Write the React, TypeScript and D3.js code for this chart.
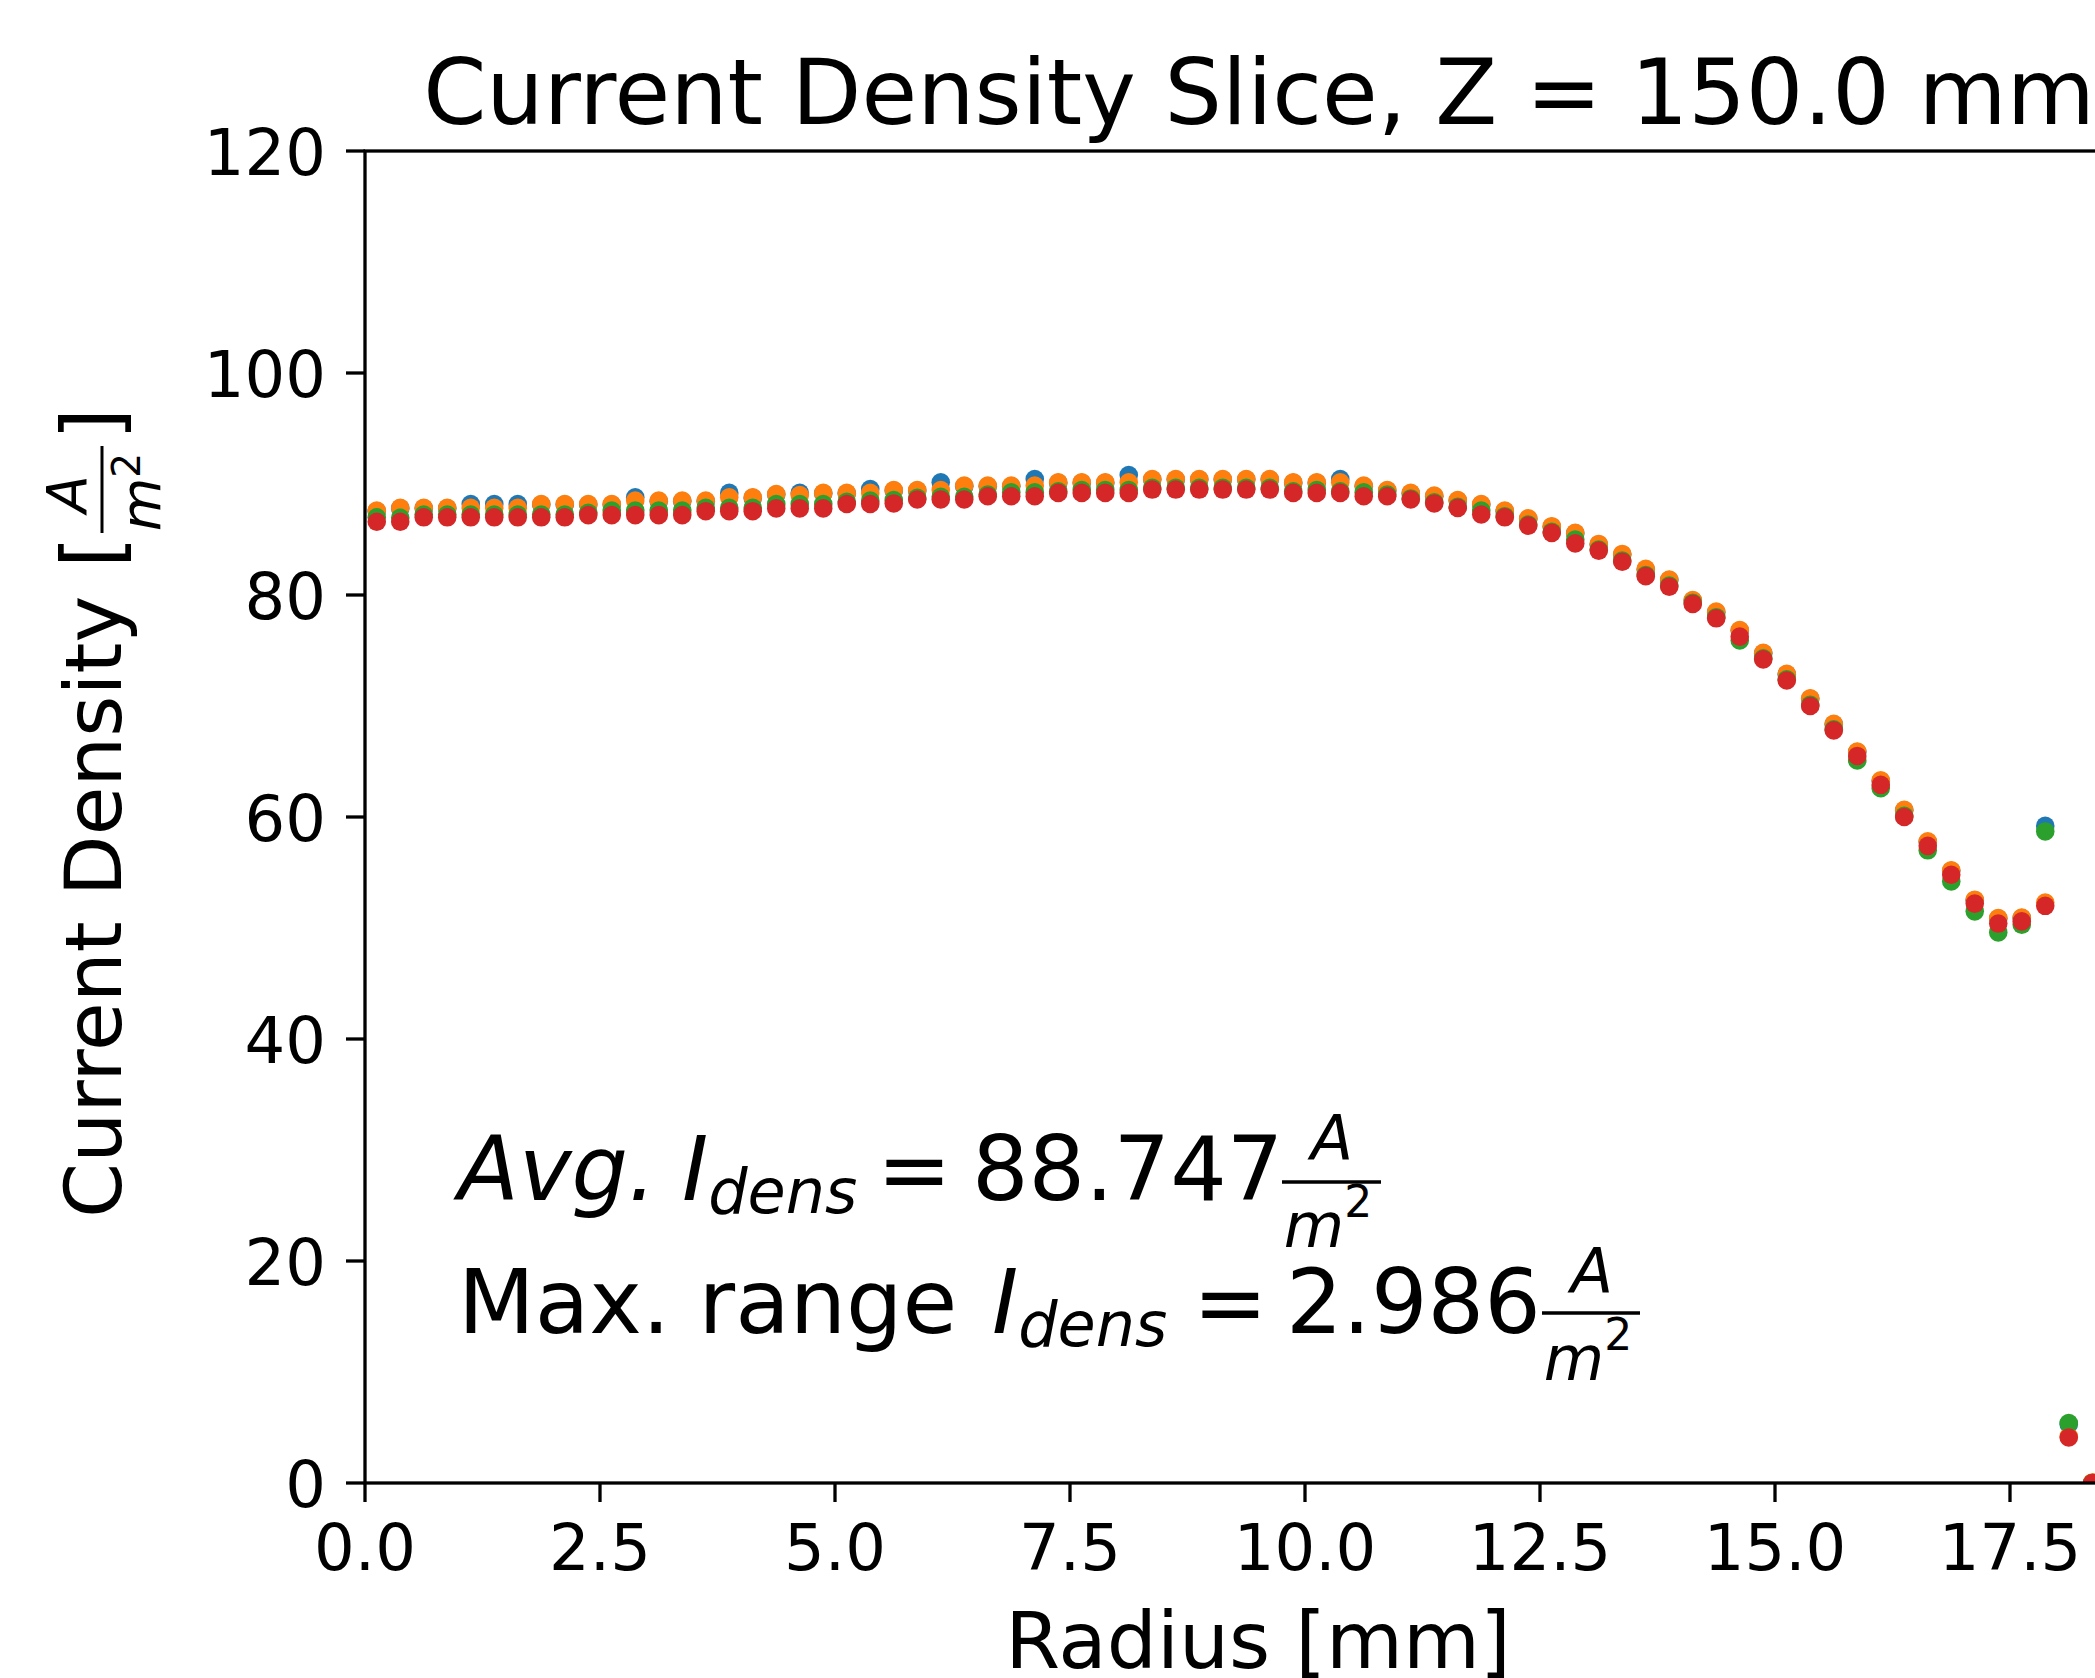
import React from 'react';
import * as d3 from 'd3';

// radius positions of the slice samples [mm]
const radius = [
  0.125, 0.375, 0.625, 0.875, 1.125, 1.375, 1.625, 1.875, 2.125, 2.375,
  2.625, 2.875, 3.125, 3.375, 3.625, 3.875, 4.125, 4.375, 4.625, 4.875,
  5.125, 5.375, 5.625, 5.875, 6.125, 6.375, 6.625, 6.875, 7.125, 7.375,
  7.625, 7.875, 8.125, 8.375, 8.625, 8.875, 9.125, 9.375, 9.625, 9.875,
  10.125, 10.375, 10.625, 10.875, 11.125, 11.375, 11.625, 11.875, 12.125, 12.375,
  12.625, 12.875, 13.125, 13.375, 13.625, 13.875, 14.125, 14.375, 14.625, 14.875,
  15.125, 15.375, 15.625, 15.875, 16.125, 16.375, 16.625, 16.875, 17.125, 17.375,
  17.625, 17.875, 18.125, 18.375,
];

// current density per series [A/m^2]
const blueValues = [
  87.55, 87.8, 87.8, 87.8, 88.2, 88.2, 88.2, 88.15, 88.15, 88.15,
  88.15, 88.8, 88.45, 88.45, 88.45, 89.2, 88.75, 89.05, 89.2, 89.15,
  89.15, 89.55, 89.4, 89.4, 90.15, 89.8, 89.8, 89.8, 90.45, 90.1,
  90.1, 90.1, 90.8, 90.4, 90.4, 90.4, 90.4, 90.4, 90.4, 90.1,
  90.1, 90.45, 89.8, 89.4, 89.15, 88.9, 88.5, 88.15, 87.55, 86.85,
  86.15, 85.55, 84.55, 83.65, 82.3, 81.35, 79.5, 78.45, 76.8, 74.75,
  72.85, 70.65, 68.35, 65.85, 63.25, 60.6, 57.75, 55.15, 52.5, 50.85,
  50.9, 59.2, 5.3, 0.0,
];

const orangeValues = [
  87.6, 87.85, 87.85, 87.85, 87.85, 87.85, 87.85, 88.2, 88.2, 88.2,
  88.2, 88.5, 88.5, 88.5, 88.5, 88.8, 88.8, 89.1, 89.0, 89.2,
  89.2, 89.2, 89.45, 89.45, 89.45, 89.85, 89.85, 89.85, 89.85, 90.15,
  90.15, 90.15, 90.15, 90.45, 90.45, 90.45, 90.45, 90.45, 90.45, 90.15,
  90.15, 90.15, 89.85, 89.45, 89.2, 88.95, 88.55, 88.2, 87.6, 86.9,
  86.2, 85.6, 84.6, 83.7, 82.35, 81.4, 79.55, 78.5, 76.85, 74.8,
  72.9, 70.7, 68.4, 65.9, 63.3, 60.65, 57.8, 55.2, 52.55, 50.9,
  50.95, 52.3, 4.2, 0.05,
];

const greenValues = [
  87.0, 86.95, 87.25, 87.25, 87.25, 87.25, 87.25, 87.25, 87.25, 87.4,
  87.6, 87.6, 87.6, 87.6, 87.85, 87.85, 87.85, 88.2, 88.2, 88.2,
  88.4, 88.5, 88.55, 88.75, 88.85, 88.85, 89.05, 89.25, 89.25, 89.35,
  89.45, 89.45, 89.45, 89.65, 89.65, 89.65, 89.65, 89.65, 89.65, 89.35,
  89.45, 89.35, 89.25, 89.05, 88.7, 88.35, 87.95, 87.6, 87.1, 86.35,
  85.7, 85.0, 84.1, 83.1, 81.8, 80.85, 79.3, 78.0, 75.9, 74.3,
  72.4, 70.1, 67.9, 65.1, 62.6, 60.1, 57.0, 54.2, 51.5, 49.6,
  50.3, 58.7, 5.4, 0.0,
];

const redValues = [
  86.6, 86.6, 87.0, 87.0, 87.0, 87.0, 87.0, 87.0, 87.0, 87.2,
  87.2, 87.2, 87.2, 87.2, 87.55, 87.55, 87.55, 87.8, 87.8, 87.8,
  88.2, 88.2, 88.25, 88.6, 88.6, 88.6, 88.9, 88.9, 88.9, 89.2,
  89.2, 89.2, 89.2, 89.5, 89.5, 89.5, 89.5, 89.5, 89.5, 89.2,
  89.2, 89.2, 88.9, 88.9, 88.6, 88.25, 87.85, 87.25, 87.0, 86.25,
  85.6, 84.65, 84.0, 83.0, 81.7, 80.75, 79.2, 77.9, 76.25, 74.2,
  72.3, 70.0, 67.8, 65.5, 62.9, 60.0, 57.4, 54.8, 52.2, 50.4,
  50.6, 52.0, 4.1, 0.0,
];

const xTicks = [0, 2.5, 5, 7.5, 10, 12.5, 15, 17.5];
const yTicks = [0, 20, 40, 60, 80, 100, 120];

const series = [
  { name: 'blue', color: '#1f77b4', values: blueValues },
  { name: 'orange', color: '#ff7f0e', values: orangeValues },
  { name: 'green', color: '#2ca02c', values: greenValues },
  { name: 'red', color: '#d62728', values: redValues },
];

const W = 2095;
const H = 1678;
const margin = { left: 365, top: 151, right: 2151, bottom: 1483 };
const font = 'DejaVu Sans';

export default function App() {
  const x = d3.scaleLinear().domain([0, 19]).range([margin.left, margin.right]);
  const y = d3.scaleLinear().domain([0, 120]).range([margin.bottom, margin.top]);
  const tickLen = 19;
  const lw = 3.3;

  return (
    <div style={{ position: 'absolute', left: 0, top: 0 }}>
      <svg width={W} height={H} style={{ display: 'block', background: '#fff' }} fontFamily={font}>
        <defs>
          <clipPath id="plot">
            <rect x={margin.left} y={margin.top} width={margin.right - margin.left} height={margin.bottom - margin.top} />
          </clipPath>
        </defs>
        <rect width={W} height={H} fill="#fff" />

        {/* points, drawn series by series like the scatter calls */}
        <g clipPath="url(#plot)">
          {series.map(s => (
            <g key={s.name} fill={s.color}>
              {s.values.map((v, i) => (
                <circle key={i} cx={x(radius[i])} cy={y(v)} r={9.3} />
              ))}
            </g>
          ))}
        </g>

        {/* spines */}
        <rect x={margin.left} y={margin.top} width={margin.right - margin.left} height={margin.bottom - margin.top}
          stroke="#000" strokeWidth={lw} fill="none" />

        {/* x axis */}
        <g>
          {xTicks.map(t => (
            <g key={t}>
              <line x1={x(t)} x2={x(t)} y1={margin.bottom} y2={margin.bottom + tickLen} stroke="#000" strokeWidth={lw} />
              <text x={x(t)} y={1570} fontSize={64} textAnchor="middle">{t.toFixed(1)}</text>
            </g>
          ))}
          <text x={(margin.left + margin.right) / 2} y={1668} fontSize={79} textAnchor="middle">Radius [mm]</text>
        </g>

        {/* y axis */}
        <g>
          {yTicks.map(t => (
            <g key={t}>
              <line x1={margin.left - tickLen} x2={margin.left} y1={y(t)} y2={y(t)} stroke="#000" strokeWidth={lw} />
              <text x={326} y={y(t) + 24} fontSize={64} textAnchor="end">{t}</text>
            </g>
          ))}
          <text transform="translate(121,1218) rotate(-90)" fontSize={79}>Current Density</text>
          <text transform="translate(120,568) rotate(-90)" fontSize={82}>[</text>
          <text transform="translate(86,494) rotate(-90)" fontSize={55} fontStyle="italic" textAnchor="middle">A</text>
          <line x1={102} x2={102} y1={446} y2={533} stroke="#000" strokeWidth={3} />
          <text transform="translate(160,492) rotate(-90)" fontSize={55} fontStyle="italic" textAnchor="middle">
            m<tspan fontSize={39} fontStyle="normal" dy={-20}>2</tspan>
          </text>
          <text transform="translate(120,440) rotate(-90)" fontSize={82}>]</text>
        </g>

        {/* title */}
        <text x={1259} y={124} fontSize={90.5} textAnchor="middle">
          Current Density Slice, Z = 150.0 mm
        </text>

        {/* annotation */}
        <g fontSize={89}>
          <text x={458} y={1200}>
            <tspan fontStyle="italic">Avg.</tspan>
            <tspan fontStyle="italic" x={682}>I</tspan>
            <tspan fontStyle="italic" fontSize={62} dy={13}>dens</tspan>
          </text>
          <text x={877} y={1200}>=</text>
          <text x={972} y={1200}>88.747</text>
          <text x={1332} y={1160} fontSize={62} fontStyle="italic" textAnchor="middle">A</text>
          <line x1={1282} x2={1381} y1={1182} y2={1182} stroke="#000" strokeWidth={3.5} />
          <text x={1328} y={1247} fontSize={62} fontStyle="italic" textAnchor="middle">
            m<tspan fontSize={44} fontStyle="normal" dy={-30}>2</tspan>
          </text>

          <text x={458} y={1333}>
            Max. range <tspan fontStyle="italic" x={992}>I</tspan>
            <tspan fontStyle="italic" fontSize={62} dy={13}>dens</tspan>
          </text>
          <text x={1193} y={1333}>=</text>
          <text x={1286} y={1333}>2.986</text>
          <text x={1592} y={1293} fontSize={62} fontStyle="italic" textAnchor="middle">A</text>
          <line x1={1542} x2={1640} y1={1313} y2={1313} stroke="#000" strokeWidth={3.5} />
          <text x={1588} y={1380} fontSize={62} fontStyle="italic" textAnchor="middle">
            m<tspan fontSize={44} fontStyle="normal" dy={-30}>2</tspan>
          </text>
        </g>
      </svg>
    </div>
  );
}
